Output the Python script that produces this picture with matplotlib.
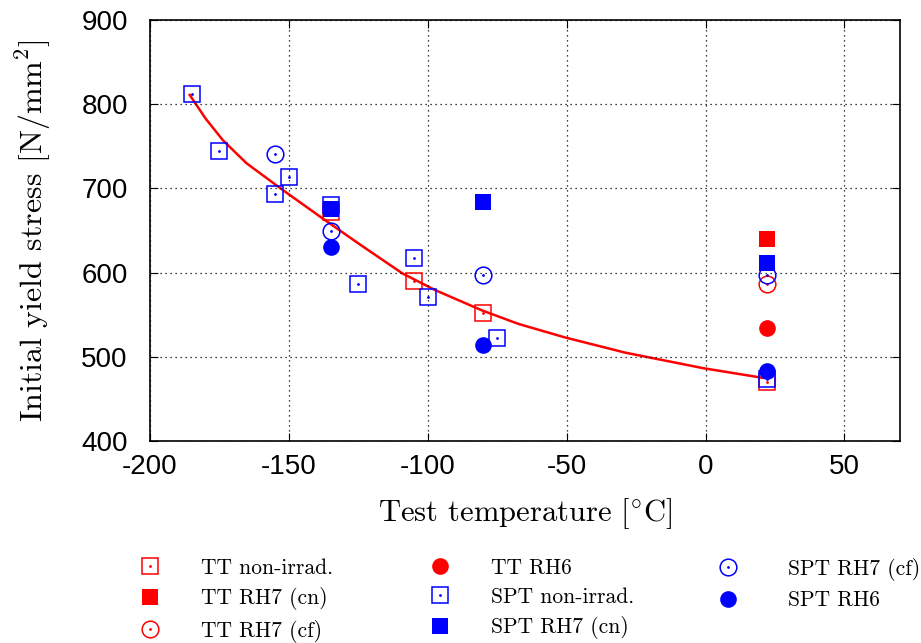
import matplotlib
matplotlib.use('Agg')
import matplotlib.pyplot as plt
from matplotlib.legend_handler import HandlerTuple

plt.rcParams['mathtext.fontset'] = 'cm'
plt.rcParams['axes.unicode_minus'] = False

# --- data ---
tt_non_t = [-135, -105, -80, 22]
tt_non_y = [672, 590, 552, 470]

tt_cn_t = [22]
tt_cn_y = [640]

tt_cf_t = [22]
tt_cf_y = [587]

tt_rh6_t = [22]
tt_rh6_y = [534]

spt_non_t = [-185, -175, -155, -150, -135, -125, -105, -100, -75, 22]
spt_non_y = [812, 745, 693, 714, 680, 586, 617, 571, 522, 474]

spt_cn_t = [-135, -80, 22]
spt_cn_y = [676, 684, 611]

spt_cf_t = [-155, -135, -80, 22]
spt_cf_y = [741, 650, 597, 597]

spt_rh6_t = [-135, -80, 22]
spt_rh6_y = [630, 514, 483]

# fitted curve
fit_t = [-185.7, -180, -173.7, -165.3, -153, -139, -124.7, -109.1, -97.2,
         -80.4, -67.3, -50.6, -29, -0.9, 20.6]
fit_y = [811, 783, 757, 730, 700, 667, 634, 599, 579,
         555, 539, 523, 505, 486.5, 475]

serif = ['cmr10', 'DejaVu Serif']

fig = plt.figure(figsize=(9.21, 6.43), dpi=100)
ax = fig.add_axes([150 / 921, 1 - 441 / 643, 750 / 921, 421 / 643])

ms = 12

def open_series(t, y, marker, color):
    h = ax.plot(t, y, marker=marker, linestyle='none', markersize=ms,
                markerfacecolor='none', markeredgecolor=color, markeredgewidth=1.1)[0]
    d = ax.plot(t, y, marker='.', markersize=2, linestyle='none', color=color)[0]
    return (h, d)

def filled_series(t, y, marker, color):
    return ax.plot(t, y, marker=marker, linestyle='none', markersize=ms,
                   color=color, markeredgewidth=0)[0]

ax.plot(fit_t, fit_y, color='red', linewidth=1.8, zorder=1)

h_tt_non = open_series(tt_non_t, tt_non_y, 's', 'red')
h_tt_cn = filled_series(tt_cn_t, tt_cn_y, 's', 'red')
h_tt_cf = open_series(tt_cf_t, tt_cf_y, 'o', 'red')
h_tt_rh6 = filled_series(tt_rh6_t, tt_rh6_y, 'o', 'red')
h_spt_non = open_series(spt_non_t, spt_non_y, 's', 'blue')
h_spt_cn = filled_series(spt_cn_t, spt_cn_y, 's', 'blue')
h_spt_cf = open_series(spt_cf_t, spt_cf_y, 'o', 'blue')
h_spt_rh6 = filled_series(spt_rh6_t, spt_rh6_y, 'o', 'blue')

ax.set_xlim(-200, 70)
ax.set_ylim(400, 900)
ax.set_xticks([-200, -150, -100, -50, 0, 50])
ax.set_yticks([400, 500, 600, 700, 800, 900])
ax.grid(True, linestyle=(0, (1, 3)), color='black', linewidth=0.9)
ax.tick_params(direction='in', length=6, top=True, right=True, labelsize=20)
ax.tick_params(axis='x', pad=9)
ax.tick_params(axis='y', pad=16)
for lab in ax.get_xticklabels() + ax.get_yticklabels():
    lab.set_fontfamily('Liberation Sans')
for s in ax.spines.values():
    s.set_linewidth(1.2)

ax.set_xlabel(r'Test temperature [$^{\circ}$C]', fontfamily=serif, fontsize=22, labelpad=12)
ax.set_ylabel(r'Initial yield stress [N/mm$^2$]', fontfamily=serif, fontsize=23, labelpad=20)

# legend in three columns, each placed on its own
columns = [
    ([h_tt_non, h_tt_cn, h_tt_cf], ['TT non-irrad.', 'TT RH7 (cn)', 'TT RH7 (cf)'], 139, 1.9),
    ([h_tt_rh6, h_spt_non, h_spt_cn], ['TT RH6', 'SPT non-irrad.', 'SPT RH7 (cn)'], 429, 1.9),
    ([h_spt_cf, h_spt_rh6], ['SPT RH7 (cf)', 'SPT RH6'], 717, 2.3),
]
for hs, ls, x0, pad in columns:
    fig.legend(hs, ls, loc='upper left', bbox_to_anchor=(x0 / 921, 1 - 558 / 643),
               frameon=False, prop={'family': serif, 'size': 15.5},
               handler_map={tuple: HandlerTuple(ndivide=1)},
               handlelength=1.0, handletextpad=pad, labelspacing=0.45,
               borderpad=0, borderaxespad=0)

fig.savefig('out.png', dpi=100)
